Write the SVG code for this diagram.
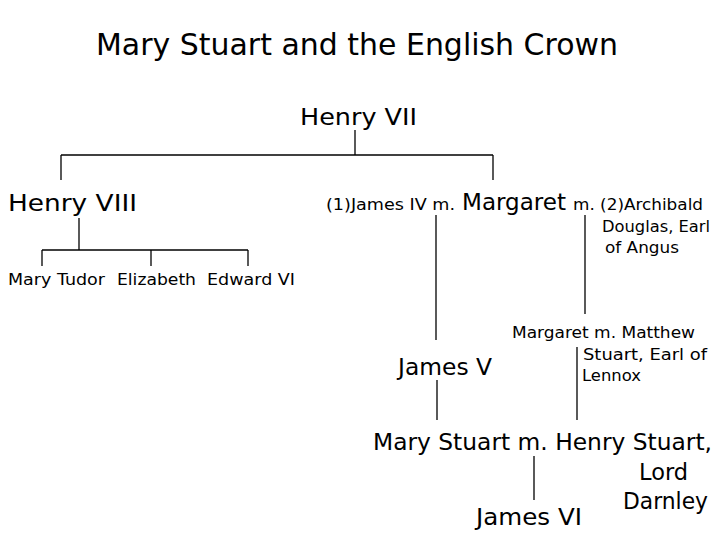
<svg xmlns="http://www.w3.org/2000/svg" width="720" height="540" viewBox="0 0 720 540">
<style>
text{font-family:"Comic Sans MS","DejaVu Sans","Liberation Sans",sans-serif;fill:#000}
.t{font-size:31px}
.l{font-size:23px}
.s{font-size:16px}
.c line{stroke:#000;stroke-width:1.3}
</style>
<rect width="720" height="540" fill="#fff"/>
<g id="title"><text class="t" x="96" y="55" textLength="522" lengthAdjust="spacingAndGlyphs">Mary Stuart and the English Crown</text></g>
<g class="c" id="connectors">
<line x1="355" y1="130" x2="355" y2="155"/>
<line x1="61" y1="155" x2="493" y2="155"/>
<line x1="61" y1="155" x2="61" y2="180"/>
<line x1="493" y1="155" x2="493" y2="180"/>
<line x1="79" y1="218" x2="79" y2="250"/>
<line x1="42" y1="250" x2="248" y2="250"/>
<line x1="42" y1="250" x2="42" y2="266"/>
<line x1="151" y1="250" x2="151" y2="266"/>
<line x1="248" y1="250" x2="248" y2="266"/>
<line x1="436" y1="215" x2="436" y2="340"/>
<line x1="585" y1="215" x2="585" y2="314"/>
<line x1="577" y1="347" x2="577" y2="420"/>
<line x1="437" y1="380" x2="437" y2="420"/>
<line x1="534" y1="456" x2="534" y2="500"/>
</g>
<g id="henry7"><text class="l" x="300" y="125" textLength="117" lengthAdjust="spacingAndGlyphs">Henry VII</text></g>
<g id="henry8"><text class="l" x="8" y="211" textLength="129" lengthAdjust="spacingAndGlyphs">Henry VIII</text></g>
<g id="children8">
<text class="s" x="8" y="285" textLength="97" lengthAdjust="spacingAndGlyphs">Mary Tudor</text>
<text class="s" x="117" y="285" textLength="79" lengthAdjust="spacingAndGlyphs">Elizabeth</text>
<text class="s" x="207" y="285" textLength="88" lengthAdjust="spacingAndGlyphs">Edward VI</text>
</g>
<g id="margaret">
<text class="s" x="326" y="210" textLength="129" lengthAdjust="spacingAndGlyphs">(1)James IV  m.</text>
<text class="l" x="462" y="210" textLength="104" lengthAdjust="spacingAndGlyphs">Margaret</text>
<text class="s" x="573" y="210" textLength="130" lengthAdjust="spacingAndGlyphs">m. (2)Archibald</text>
<text class="s" x="602" y="232" textLength="108" lengthAdjust="spacingAndGlyphs">Douglas, Earl</text>
<text class="s" x="605" y="253" textLength="74" lengthAdjust="spacingAndGlyphs">of Angus</text>
</g>
<g id="margaret2">
<text class="s" x="512" y="338" textLength="183" lengthAdjust="spacingAndGlyphs">Margaret m. Matthew</text>
<text class="s" x="583" y="360" textLength="124" lengthAdjust="spacingAndGlyphs">Stuart, Earl of</text>
<text class="s" x="582" y="381" textLength="59" lengthAdjust="spacingAndGlyphs">Lennox</text>
</g>
<g id="james5"><text class="l" x="398" y="375" textLength="94" lengthAdjust="spacingAndGlyphs">James V</text></g>
<g id="marystuart">
<text class="l" x="373" y="450" textLength="339" lengthAdjust="spacingAndGlyphs">Mary Stuart m. Henry Stuart,</text>
<text class="l" x="639" y="480" textLength="49" lengthAdjust="spacingAndGlyphs">Lord</text>
<text class="l" x="623" y="509" textLength="85" lengthAdjust="spacingAndGlyphs">Darnley</text>
</g>
<g id="james6"><text class="l" x="476" y="525" textLength="106" lengthAdjust="spacingAndGlyphs">James VI</text></g>
</svg>
